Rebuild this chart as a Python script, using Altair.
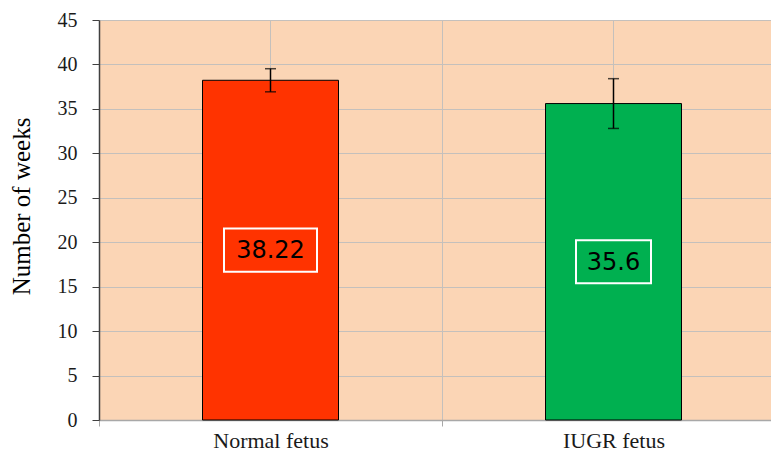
import altair as alt
import pandas as pd

# ---- data ----
categories = ["Normal fetus", "IUGR fetus"]
means = [38.22, 35.6]
errors = [1.3, 2.8]
y_ticks = [0, 5, 10, 15, 20, 25, 30, 35, 40, 45]

# ---- styles ----
bar_colors = ["#FF3300", "#00B050"]
grid_color = "#C4C0BC"
serif = "Liberation Serif"

df = pd.DataFrame({"cat": categories, "value": means, "err": errors})

x_enc = alt.X(
    "cat:N",
    sort=categories,
    scale=alt.Scale(domain=categories, range=[0, 686], paddingInner=0, paddingOuter=0),
    axis=alt.Axis(
        title=None, tickBand="extent", grid=True, gridColor=grid_color, gridWidth=1,
        ticks=True, tickSize=6, tickColor="#A8A8A8", domainColor="#A8A8A8", domainWidth=1.5,
        labelFont=serif, labelFontSize=22, labelColor="#1a1a1a", labelPadding=4, labelAngle=0,
    ),
)

y_scale = alt.Scale(domain=[0, 45], nice=False, zero=True)
y_axis = alt.Axis(
    values=y_ticks, title="Number of weeks", grid=True, gridColor=grid_color, gridWidth=1,
    tickSize=7, tickColor="#404040", domainColor="#404040", domainWidth=1.5,
    labelFont=serif, labelFontSize=20, labelColor="#1a1a1a", labelPadding=15,
    titleFont=serif, titleFontSize=25, titleFontWeight="normal", titleColor="#000000",
    titleX=-65, titleY=186,
)

center_grid = alt.Chart().mark_rule(color=grid_color, strokeWidth=1).encode(
    x=x_enc, y=alt.datum(0, scale=y_scale), y2=alt.datum(45)
)

bars = alt.Chart().mark_bar(size=136, stroke="black", strokeWidth=1).encode(
    x=x_enc,
    y=alt.Y("value:Q", scale=y_scale, axis=y_axis),
    color=alt.Color("cat:N", scale=alt.Scale(domain=categories, range=bar_colors), legend=None),
)

boxes = alt.Chart().transform_calculate(
    blo="datum.value / 2 - 2.42",
    bhi="datum.value / 2 + 2.42",
    bw="length(toString(datum.value)) * 18 + 3",
).mark_bar(fillOpacity=0, stroke="white", strokeWidth=2).encode(
    x=x_enc, y=alt.Y("blo:Q", scale=y_scale), y2="bhi:Q", size=alt.Size("bw:Q", scale=None)
)

texts = alt.Chart().transform_calculate(
    mid="datum.value / 2", lab="toString(datum.value)"
).mark_text(font="DejaVu Sans", fontSize=24, color="#000000", baseline="middle", dy=1).encode(
    x=x_enc, y=alt.Y("mid:Q", scale=y_scale), text="lab:N"
)

err_rule = alt.Chart().transform_calculate(
    lo="datum.value - datum.err", hi="datum.value + datum.err"
).mark_rule(color="black", strokeWidth=1.5).encode(
    x=x_enc, y=alt.Y("lo:Q", scale=y_scale), y2="hi:Q"
)

cap_lo = alt.Chart().transform_calculate(lo="datum.value - datum.err").mark_tick(
    color="black", thickness=1.5, size=11
).encode(x=x_enc, y=alt.Y("lo:Q", scale=y_scale))

cap_hi = alt.Chart().transform_calculate(hi="datum.value + datum.err").mark_tick(
    color="black", thickness=1.5, size=11
).encode(x=x_enc, y=alt.Y("hi:Q", scale=y_scale))

chart = alt.layer(
    center_grid, bars, boxes, texts, err_rule, cap_lo, cap_hi, data=df
).properties(
    width=672, height=400,
    autosize=alt.AutoSizeParams(type="none"),
    padding={"left": 91, "top": 12, "right": 0, "bottom": 40},
    background="white",
).configure_view(fill="#FBD5B5", stroke=None)

chart.save("out.html", embed_options={"renderer": "svg", "actions": False})
